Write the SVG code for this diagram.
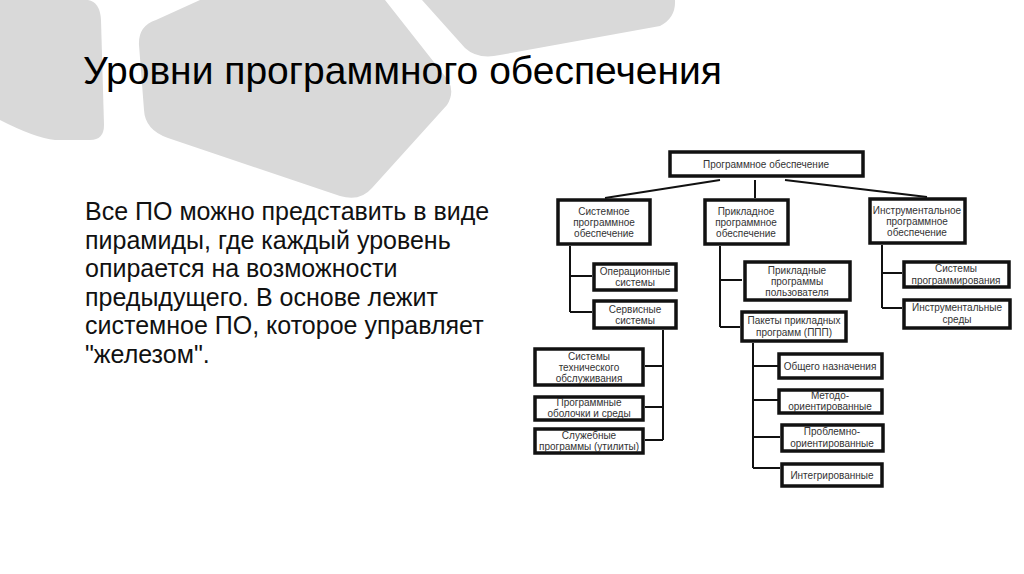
<svg xmlns="http://www.w3.org/2000/svg" width="1024" height="574" viewBox="0 0 1024 574">
<style>
.bg{fill:#d9d9d9}
.box{fill:#fff;stroke:#111;stroke-width:3.5}
.t{font-family:"Liberation Sans",Arial,sans-serif;font-size:10px;fill:#333;text-anchor:middle}
.c{stroke:#111;stroke-width:2;fill:none}
.title{font-family:"Liberation Sans",Arial,sans-serif;font-size:39px;fill:#000}
.body{font-family:"Liberation Sans",Arial,sans-serif;font-size:25px;fill:#111}
</style>
<rect width="1024" height="574" fill="#fff"/>
<g id="background">
<path class="bg" d="M0,0 L88,0 Q100,2 101,20 L104,125 Q104,140 90,140 L55,140 Q35,138 0,120 Z"/>
<path class="bg" d="M160,0 L385,0 L448,80 Q455,92 447,105 L372,188 Q360,202 340,196 L168,138 Q145,130 144,110 L139,45 Q138,26 156,20 L200,0 Z"/>
<path class="bg" d="M422,0 L675,0 Q676,18 660,26 L500,55 Q478,60 465,48 Z"/>
</g>
<text class="title" x="83" y="84">Уровни программного обеспечения</text>
<g id="description" class="body">
<text x="85" y="220">Все ПО можно представить в виде</text>
<text x="85" y="248.5">пирамиды, где каждый уровень</text>
<text x="85" y="277">опирается на возможности</text>
<text x="85" y="305.5">предыдущего. В основе лежит</text>
<text x="85" y="334">системное ПО, которое управляет</text>
<text x="85" y="362.5">"железом".</text>
</g>
<g id="connectors" class="c">
<path d="M720,180 L605,198"/>
<path d="M755,180 L755,198"/>
<path d="M785,180 L927,197"/>
<path d="M570,246 V312 M570,276 H592 M570,312 H592"/>
<path d="M663,330 V440 M663,366 H645 M663,407 H645 M663,440 H645"/>
<path d="M720,246 V327 M720,280 H742 M720,327 H740"/>
<path d="M753,343 V468 M753,366 H778 M753,400 H778 M753,437 H780 M753,468 H780"/>
<path d="M882,245 V308 M882,273 H902 M882,308 H902"/>
</g>
<g id="n-root"><rect class="box" x="670" y="152" width="193" height="24"/><text class="t" x="766" y="168">Программное обеспечение</text></g>
<g id="n-system"><rect class="box" x="558" y="200" width="92" height="44"/><text class="t" x="604" y="215">Системное</text><text class="t" x="604" y="226">программное</text><text class="t" x="604" y="237">обеспечение</text></g>
<g id="n-applied"><rect class="box" x="705" y="200" width="83" height="44"/><text class="t" x="746" y="215">Прикладное</text><text class="t" x="746" y="226">программное</text><text class="t" x="746" y="237">обеспечение</text></g>
<g id="n-tools"><rect class="box" x="870" y="199" width="95" height="44"/><text class="t" x="917" y="214">Инструментальное</text><text class="t" x="917" y="225">программное</text><text class="t" x="917" y="236">обеспечение</text></g>
<g id="n-os"><rect class="box" x="594" y="264" width="82" height="26"/><text class="t" x="635" y="275">Операционные</text><text class="t" x="635" y="286">системы</text></g>
<g id="n-service"><rect class="box" x="594" y="301" width="82" height="27"/><text class="t" x="635" y="313">Сервисные</text><text class="t" x="635" y="324">системы</text></g>
<g id="n-maint"><rect class="box" x="535" y="349" width="108" height="36"/><text class="t" x="589" y="360">Системы</text><text class="t" x="589" y="371">технического</text><text class="t" x="589" y="382">обслуживания</text></g>
<g id="n-shells"><rect class="box" x="535" y="397" width="108" height="23"/><text class="t" x="589" y="406">Программные</text><text class="t" x="589" y="417">оболочки и среды</text></g>
<g id="n-utils"><rect class="box" x="535" y="429" width="108" height="24"/><text class="t" x="589" y="439">Служебные</text><text class="t" x="589" y="450">программы (утилиты)</text></g>
<g id="n-userprog"><rect class="box" x="745" y="262" width="105" height="38"/><text class="t" x="797" y="274">Прикладные</text><text class="t" x="797" y="285">программы</text><text class="t" x="797" y="296">пользователя</text></g>
<g id="n-ppp"><rect class="box" x="742" y="312" width="104" height="29"/><text class="t" x="794" y="324">Пакеты прикладных</text><text class="t" x="794" y="336">программ (ППП)</text></g>
<g id="n-general"><rect class="box" x="779" y="354" width="103" height="24"/><text class="t" x="830" y="370">Общего назначения</text></g>
<g id="n-method"><rect class="box" x="779" y="390" width="103" height="23"/><text class="t" x="830" y="399">Методо-</text><text class="t" x="830" y="410">ориентированные</text></g>
<g id="n-problem"><rect class="box" x="782" y="425" width="101" height="26"/><text class="t" x="832" y="435">Проблемно-</text><text class="t" x="832" y="447">ориентированные</text></g>
<g id="n-integr"><rect class="box" x="782" y="464" width="100" height="22"/><text class="t" x="832" y="479">Интегрированные</text></g>
<g id="n-progsys"><rect class="box" x="904" y="262" width="105" height="25"/><text class="t" x="956" y="272">Системы</text><text class="t" x="956" y="284">программирования</text></g>
<g id="n-toolenv"><rect class="box" x="904" y="300" width="106" height="28"/><text class="t" x="957" y="311">Инструментальные</text><text class="t" x="957" y="323">среды</text></g>
</svg>
